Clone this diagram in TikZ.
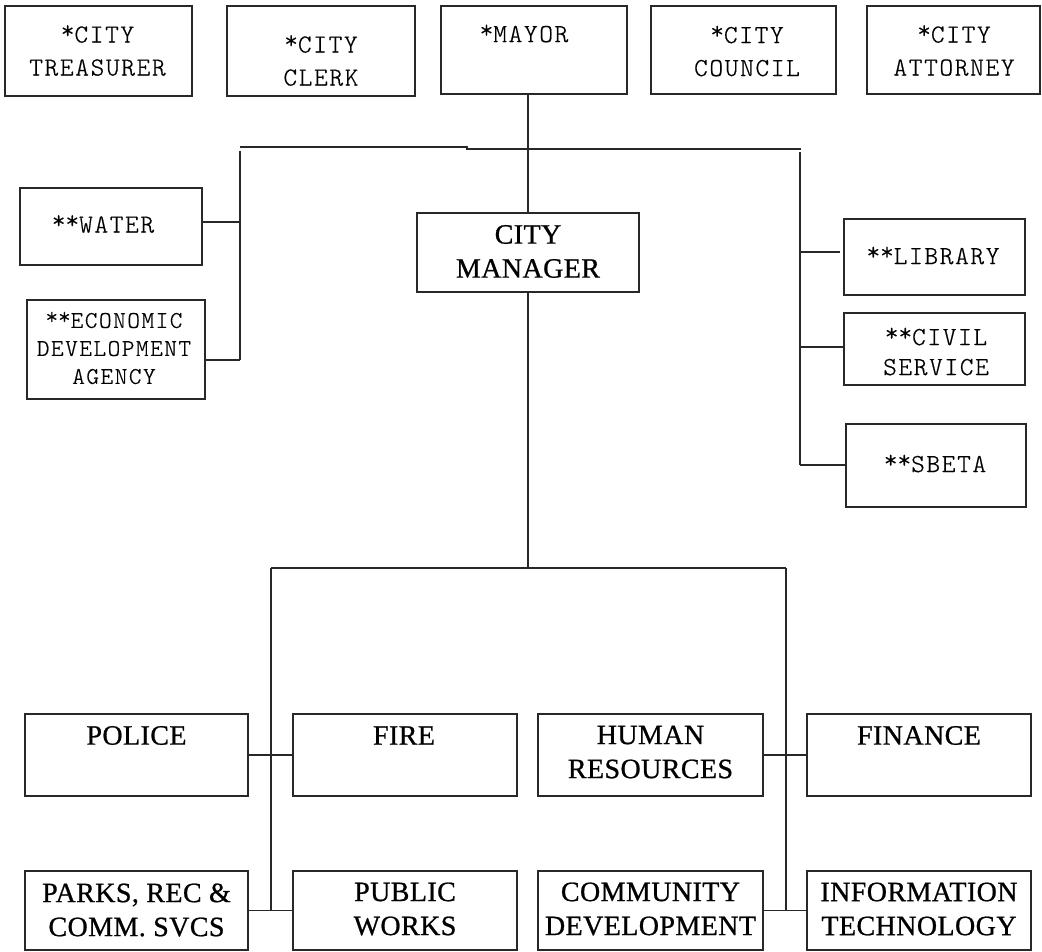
\documentclass[tikz,border=0pt]{standalone}
\usepackage{fontspec}
\setmainfont{Liberation Serif}
\newfontfamily\monofnt{lmmonolt10-regular.otf}[LetterSpace=6.5, FakeBold=0.6]
\newfontfamily\botfnt{Liberation Serif}[LetterSpace=1.5, FakeBold=0.8]
\newcommand\rast{\raisebox{0.15em}{*}}
\definecolor{lc}{RGB}{40,40,40}
\tikzset{
  box/.style={draw=lc, line width=1.6pt, rectangle, inner sep=0pt},
  ln/.style={draw=lc, line width=1.5pt},
  ttxt/.style={font=\monofnt\fontsize{26}{33}\selectfont, align=center, inner sep=0pt},
  btxt/.style={font=\botfnt\fontsize{28}{34}\selectfont, align=center, inner sep=0pt},
}
\begin{document}
\begin{tikzpicture}[x=1pt,y=-1pt]
\fill[white] (0,0) rectangle (1042,952);
\useasboundingbox (0,0) rectangle (1042,952);

% top row
\node[box, minimum width=187, minimum height=90] (treas) at (98.5,51) {};
\node[ttxt] (treast) at (97.5,50.5) {\rast CITY\\TREASURER};
\node[box, minimum width=188, minimum height=90] (clerk) at (321,51) {};
\node[ttxt] (clerkt) at (321,60.5) {\rast CITY\\CLERK};
\node[box, minimum width=186, minimum height=88] (mayor) at (534,50) {};
\node[ttxt] (mayort) at (524,33.5) {\rast MAYOR};
\node[box, minimum width=185, minimum height=88] (council) at (743.5,50) {};
\node[ttxt] (councilt) at (747,51) {\rast CITY\\COUNCIL};
\node[box, minimum width=173, minimum height=88] (atty) at (953.5,50) {};
\node[ttxt] (attyt) at (954,50.5) {\rast CITY\\ATTORNEY};

% left side
\node[box, minimum width=182, minimum height=77] (water) at (111,226.5) {};
\node[ttxt] (watert) at (103,224) {\rast\rast WATER};
\node[box, minimum width=178, minimum height=99] (econ) at (116,349.5) {};
\node[ttxt, font=\monofnt\fontsize{24}{28}\selectfont] (econt) at (114,348) {\rast\rast ECONOMIC\\DEVELOPMENT\\AGENCY};

% right side
\node[box, minimum width=181, minimum height=76] (lib) at (934.5,257) {};
\node[ttxt] (libt) at (933,255.5) {\rast\rast LIBRARY};
\node[box, minimum width=181, minimum height=72] (civil) at (934.5,349) {};
\node[ttxt, font=\monofnt\fontsize{26}{30}\selectfont] (civilt) at (936,351.5) {\rast\rast CIVIL\\SERVICE};
\node[box, minimum width=180, minimum height=83] (sbeta) at (936,465.5) {};
\node[ttxt] (sbetat) at (935,463.5) {\rast\rast SBETA};

% city manager
\node[box, minimum width=222, minimum height=79] (cm) at (528,252.5) {};
\node[btxt] (cmt) at (528,251.5) {CITY\\MANAGER};

% bottom
\node[box, minimum width=223, minimum height=82] (police) at (136.5,755) {};
\node[btxt] (policet) at (136.5,735.5) {POLICE};
\node[box, minimum width=224, minimum height=82] (fire) at (405,755) {};
\node[btxt] (firet) at (404,735.5) {FIRE};
\node[box, minimum width=225, minimum height=82] (hr) at (650.5,755) {};
\node[btxt] (hrt) at (650.5,752) {HUMAN\\RESOURCES};
\node[box, minimum width=224, minimum height=82] (fin) at (919,755) {};
\node[btxt] (fint) at (919,735.5) {FINANCE};

\node[box, minimum width=223, minimum height=79] (parks) at (136.5,910.5) {};
\node[btxt] (parkst) at (136.5,910) {PARKS, REC \&\\COMM. SVCS};
\node[box, minimum width=224, minimum height=79] (pw) at (405,910.5) {};
\node[btxt] (pwt) at (405,909) {PUBLIC\\WORKS};
\node[box, minimum width=225, minimum height=79] (cd) at (650.5,910.5) {};
\node[btxt] (cdt) at (650.5,909) {COMMUNITY\\DEVELOPMENT};
\node[box, minimum width=224, minimum height=79] (it) at (919,910.5) {};
\node[btxt] (itt) at (919,909) {INFORMATION\\TECHNOLOGY};

% connector coordinates
\coordinate (hL) at (240,147);
\coordinate (hS1) at (467,147);
\coordinate (hS2) at (467,149);
\coordinate (hR) at (801,149);
\coordinate (lvTop) at (240,151);
\coordinate (lvBot) at (240,360);
\coordinate (rvTop) at (800,152);
\coordinate (rvBot) at (800,465);
\coordinate (bJ) at (528,568);
\coordinate (bL) at (271,568);
\coordinate (bR) at (786,568);

% mayor to city manager
\draw[ln] (cm.north |- mayor.south) -- (cm.north);
% upper bar
\draw[ln] (hL) -- (hS1) -- (hS2) -- (hR);
\draw[ln] (lvTop) -- (lvBot);
\draw[ln] (rvTop) -- (rvBot);
\draw[ln] (water.east |- 0,222) -- (lvTop |- 0,222);
\draw[ln] (econ.east |- lvBot) -- (lvBot);
\draw[ln] (rvTop |- 0,252) -- (840,252);
\draw[ln] (rvTop |- 0,347) -- (civil.west |- 0,347);
\draw[ln] (rvBot) -- (sbeta.west |- rvBot);

% city manager down
\draw[ln] (cm.south) -- (bJ);
\draw[ln] (bL) -- (bR);
\draw[ln] (bL) -- (bL |- parks.east);
\draw[ln] (bR) -- (bR |- cd.east);
\draw[ln] (police.east) -- (fire.west);
\draw[ln] (parks.east) -- (pw.west);
\draw[ln] (hr.east) -- (fin.west);
\draw[ln] (cd.east) -- (it.west);
\end{tikzpicture}
\end{document}
